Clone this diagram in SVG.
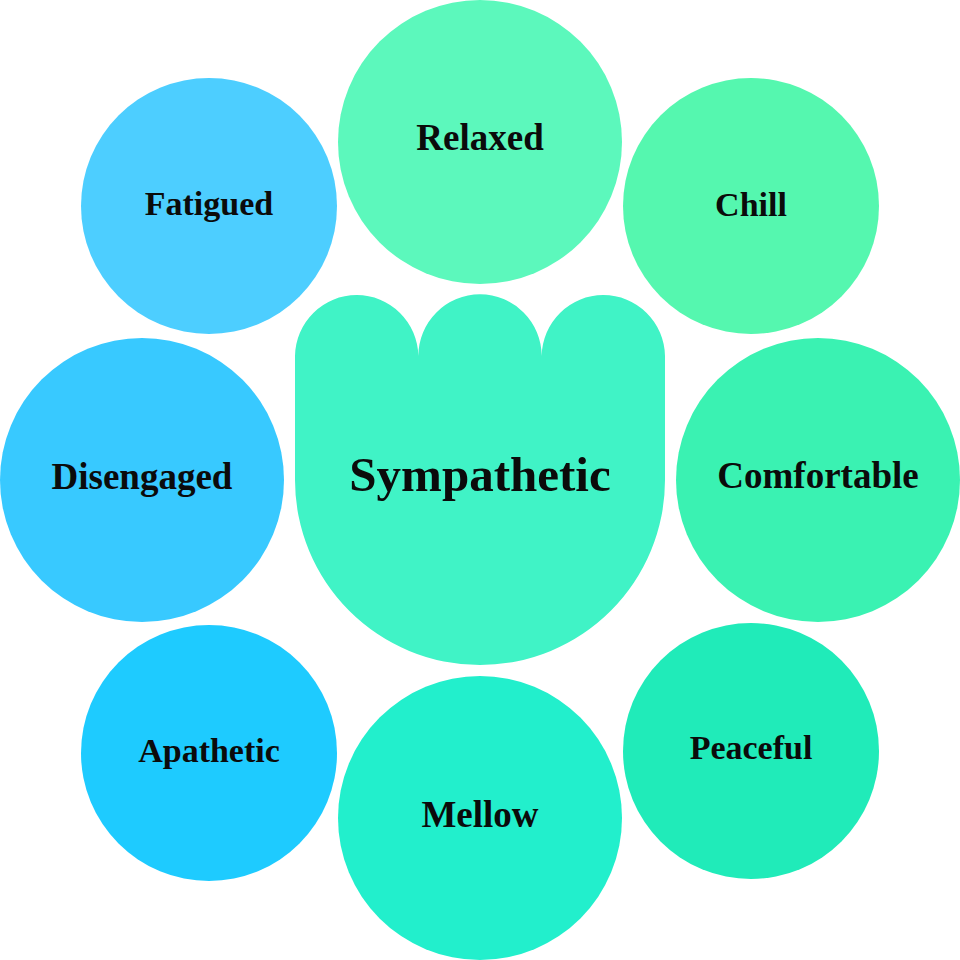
<svg xmlns="http://www.w3.org/2000/svg" width="960" height="960" viewBox="0 0 960 960">
<style>
text{font-family:"Liberation Serif","DejaVu Serif",serif;font-weight:bold;fill:#0b0b0b;text-anchor:middle}
.big{font-size:37px}
.small{font-size:34px}
.center{font-size:49px}
</style>
<rect width="960" height="960" fill="#ffffff"/>
<g id="connectors"/>
<g id="center-node">
<path d="M295,356 A61.67,61.67 0 0 1 418.33,356 A61.67,61.67 0 0 1 541.67,356 A61.67,61.67 0 0 1 665,356 L665,480 A185,185 0 0 1 295,480 Z" fill="#40F3C6"/>
<text class="center" x="480" y="491">Sympathetic</text>
</g>
<g id="relaxed">
<circle cx="480" cy="142" r="142" fill="#5CF8BC"/>
<text class="big" x="480" y="150">Relaxed</text>
</g>
<g id="chill">
<circle cx="751" cy="206" r="128" fill="#55F7AF"/>
<text class="small" x="751" y="216">Chill</text>
</g>
<g id="comfortable">
<circle cx="818" cy="480" r="142" fill="#3AF2B2"/>
<text class="big" x="818" y="488">Comfortable</text>
</g>
<g id="peaceful">
<circle cx="751" cy="751" r="128" fill="#20EBB9"/>
<text class="small" x="751" y="759">Peaceful</text>
</g>
<g id="mellow">
<circle cx="480" cy="818" r="142" fill="#22EFCC"/>
<text class="big" x="480" y="827">Mellow</text>
</g>
<g id="apathetic">
<circle cx="209" cy="753" r="128" fill="#1ECBFF"/>
<text class="small" x="209" y="762">Apathetic</text>
</g>
<g id="disengaged">
<circle cx="142" cy="480" r="142" fill="#38C9FF"/>
<text class="big" x="142" y="489">Disengaged</text>
</g>
<g id="fatigued">
<circle cx="209" cy="206" r="128" fill="#4DCEFF"/>
<text class="small" x="209" y="215">Fatigued</text>
</g>
</svg>
